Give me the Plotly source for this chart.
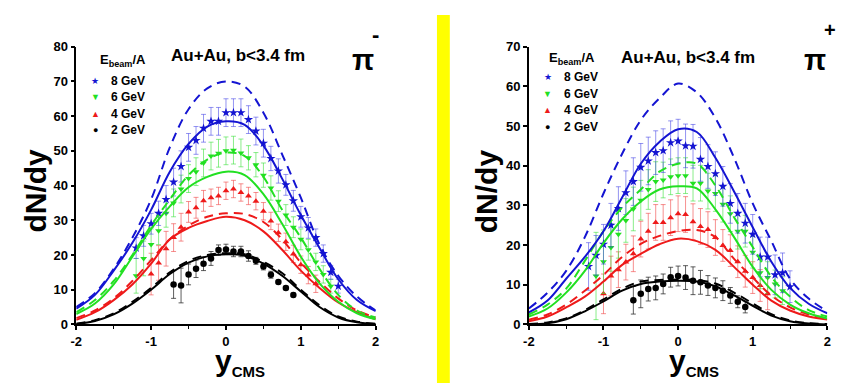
import plotly.graph_objects as go

W, H = 850, 383
FONT = "Liberation Sans, Arial, sans-serif"

# ---------------- model curves (sampled rapidity grid) ----------------
y_grid = [-2.0, -1.75, -1.5, -1.25, -1.0, -0.75, -0.5, -0.25, 0.0,
          0.25, 0.5, 0.75, 1.0, 1.25, 1.5, 1.75, 2.0]

# pi- panel
pim_8_solid = [4.5, 8.5, 15.5, 23.5, 33, 44, 52, 57, 58.5, 57.5, 51.5, 42, 31.5, 22, 13, 7, 3.8]
pim_8_dash = [5, 9, 16, 25, 36, 51, 62, 68, 70, 68.5, 61, 49, 36.5, 23, 14, 8, 4]
pim_6_solid = [3, 6, 11.5, 19.5, 27.5, 34, 39.5, 42.5, 44, 43, 37.5, 29, 19.5, 11.8, 6.5, 3.2, 1.5]
pim_6_dash = [3.5, 7, 12.5, 20, 28.5, 36, 43, 47.5, 49.5, 48.5, 42.5, 33, 25, 16, 8.5, 4, 2]
pim_4_solid = [1.3, 3.5, 7, 11.5, 17.5, 24.5, 27.8, 29.8, 31, 30, 26.8, 21.5, 15.5, 10.5, 6.3, 3.5, 1.5]
pim_4_dash = [1.8, 4, 7.5, 12.5, 18.5, 24.5, 28.5, 31, 32, 31.8, 29.5, 24.5, 17.8, 12.3, 7.5, 4, 2]
pim_2_solid = [0.1, 1, 2.9, 6, 10, 14.5, 17.8, 19.6, 20.2, 19.8, 17.5, 14, 9.5, 5, 2, 0.6, 0.1]
pim_2_dash = [0.2, 1.2, 3.2, 6.5, 10.5, 15, 18.3, 20, 20.5, 20.2, 18, 14.8, 10, 5.5, 2.3, 0.8, 0.2]

# pi+ panel
pip_8_solid = [3, 6, 11.5, 17, 23.5, 32, 40.5, 46, 49.2, 48.5, 42, 33.5, 24.5, 15.8, 9.2, 5.2, 2.8]
pip_8_dash = [4, 8, 13.5, 22, 33, 43, 51.5, 57, 60.7, 58.5, 52, 42, 30.5, 21, 11.5, 6.5, 3.3]
pip_6_solid = [2, 4, 8, 13.5, 20.5, 26.5, 31, 34, 34.8, 34.3, 29, 22, 14.5, 8.7, 5, 2.8, 1.5]
pip_6_dash = [2.5, 5, 9, 16, 23.5, 29.5, 34, 38.5, 40.5, 40.5, 35, 27, 19.5, 12, 7, 3.6, 2]
pip_4_solid = [0.8, 2, 4.3, 7, 10.8, 15, 17.8, 20.2, 21.6, 21, 18.8, 14.5, 10, 6, 3.5, 2, 1.2]
pip_4_dash = [1.2, 2.5, 5, 8.5, 12.5, 17, 20.3, 22.3, 23.5, 23.8, 22, 16.5, 11.8, 7.3, 4.3, 2.5, 1.5]
pip_2_solid = [0.0, 0.3, 1.3, 3.3, 5.8, 8.5, 10.2, 10.8, 11, 10.8, 9.6, 7.3, 4.7, 2.2, 0.8, 0.2, 0.0]
pip_2_dash = [0.1, 0.5, 1.5, 3.6, 6.3, 9, 10.8, 11.2, 11.3, 11.2, 10.3, 8, 5.3, 2.6, 1, 0.3, 0.1]

# ---------------- measured data ----------------
pim_8_y = [-1.2, -1.1, -1.0, -0.9, -0.8, -0.7, -0.6, -0.5, -0.4, -0.3, -0.2, -0.1, 0.0, 0.1,
           0.2, 0.3, 0.4, 0.5, 0.6, 0.7, 0.8, 0.9, 1.0, 1.1, 1.2, 1.3, 1.4, 1.5]
pim_8_v = [22, 25.5, 29, 32, 36, 41, 45.5, 51, 53, 56.5, 58.5, 58.5, 61, 61,
           61, 59, 55.7, 52.2, 47.8, 44.2, 40.2, 35.6, 31, 27.8, 25, 20.4, 15, 11]
pim_8_e = [3, 3, 3, 3.5, 4, 4, 4.5, 4, 4, 4, 4, 4, 4, 4,
           4, 4, 4, 4, 3.5, 3.5, 3, 3, 3, 3, 2.5, 2.5, 2, 2]

pim_6_y = [-1.2, -1.1, -1.0, -0.9, -0.8, -0.7, -0.6, -0.5, -0.4, -0.3, -0.2, -0.1, 0.0, 0.1,
           0.2, 0.3, 0.4, 0.5, 0.6, 0.7, 0.8, 0.9, 1.0, 1.1, 1.2, 1.3, 1.4]
pim_6_v = [14, 19, 23, 27, 32, 35, 39, 42, 44, 46.5, 48.5, 49.3, 50, 50.2,
           49.4, 48, 46, 43, 39.3, 35.5, 31.5, 28, 24.5, 21.5, 18, 14.4, 11]
pim_6_e = [5, 5, 4.5, 4, 4, 4, 4, 4, 4, 4, 4, 4, 4, 4,
           4, 3.5, 3.5, 3.5, 3.5, 3, 3, 3, 3, 3, 2.5, 2.5, 2]

pim_4_y = [-1.0, -0.9, -0.8, -0.7, -0.6, -0.5, -0.4, -0.3, -0.2, -0.1, 0.0, 0.1,
           0.2, 0.3, 0.4, 0.5, 0.6, 0.7, 0.8, 0.9, 1.0, 1.1, 1.2]
pim_4_v = [14.5, 17.7, 21.8, 25, 28, 32.4, 33.6, 35.6, 36.5, 37, 38.5, 39,
           38, 37, 35.5, 32.6, 29.8, 26.4, 23.8, 20.3, 17.2, 14.2, 11.7]
pim_4_e = [6, 5, 5, 4, 4, 3, 3, 3, 2.5, 2.5, 2.5, 2.5,
           2.5, 2.5, 2.5, 2.5, 2.5, 2.5, 2.5, 2.5, 2.5, 2.5, 2.5]

pim_2_y = [-0.7, -0.6, -0.5, -0.4, -0.3, -0.2, -0.1, 0.0, 0.1, 0.2, 0.3, 0.4, 0.5, 0.6, 0.7, 0.8, 0.9]
pim_2_v = [11.5, 11.2, 14.4, 16, 17.5, 19, 21.4, 21.6, 21, 21, 19.7, 18.3, 16.7, 14.3, 12.2, 10.5, 8.5]
pim_2_e = [4, 5, 3, 2.5, 2, 2, 1.5, 1.5, 1.5, 1.5, 1.5, 1, 1, 1, 0.5, 0.5, 0.5]

pip_8_y = [-1.2, -1.1, -1.0, -0.9, -0.8, -0.7, -0.6, -0.5, -0.4, -0.3, -0.2, -0.1, 0.0, 0.1,
           0.2, 0.3, 0.4, 0.5, 0.6, 0.7, 0.8, 0.9, 1.0, 1.1, 1.2, 1.3, 1.4, 1.5]
pip_8_v = [14.6, 17.4, 20.2, 25, 29.2, 33.2, 36, 39.6, 41.2, 43.3, 43.8, 45.8, 46.2, 45,
           44.9, 41.6, 39.8, 38, 34.8, 30.5, 28, 25.5, 22.7, 17, 17, 12.5, 13, 9.5]
pip_8_e = [6, 5, 5, 5.5, 5.5, 5.5, 6, 6, 6, 5.5, 5.5, 5.5, 5.5, 5.5,
           5.5, 5.5, 5.5, 5.5, 5, 5, 5, 5, 5, 5, 5, 5, 5, 4]

pip_6_y = [-1.1, -1.0, -0.9, -0.8, -0.7, -0.6, -0.5, -0.4, -0.3, -0.2, -0.1, 0.0, 0.1,
           0.2, 0.3, 0.4, 0.5, 0.6, 0.7, 0.8, 0.9, 1.0, 1.1, 1.2, 1.3, 1.4]
pip_6_v = [12.2, 15.8, 19.4, 22.7, 26.2, 29.1, 31.3, 34, 36, 36.4, 37.2, 37.5, 37.5,
           35.6, 35.6, 33.6, 33, 30.3, 27.9, 23.5, 23.5, 18.2, 13, 11.8, 10.2, 8.5]
pip_6_e = [11, 8, 6, 6, 5.5, 5.5, 5, 5, 5, 4.5, 4.5, 4.5, 4.5,
           4.5, 4.5, 4.5, 4.5, 4.5, 4.5, 4.5, 4, 4, 4, 4, 3.5, 3.5]

pip_4_y = [-1.0, -0.9, -0.8, -0.7, -0.6, -0.5, -0.4, -0.3, -0.2, -0.1, 0.0, 0.1,
           0.2, 0.3, 0.4, 0.5, 0.6, 0.7, 0.8, 0.9, 1.0, 1.1, 1.2]
pip_4_v = [7.7, 12.2, 13.8, 15.7, 17.8, 21.5, 23.5, 25.7, 25.7, 26.9, 27.9, 27.7,
           25.9, 24.7, 23.9, 21.9, 19.9, 18.6, 15.8, 13.4, 11.8, 9.8, 7.7]
pip_4_e = [5, 5, 4.5, 4.5, 4.5, 4.5, 4.5, 4.5, 4.5, 4.5, 4.5, 4.5,
           4.5, 4.5, 4.5, 4.5, 4, 4, 4, 4, 4, 4, 4]

pip_2_y = [-0.6, -0.5, -0.4, -0.3, -0.2, -0.1, 0.0, 0.1, 0.2, 0.3, 0.4, 0.5, 0.6, 0.7, 0.8, 0.9]
pip_2_v = [6.1, 7.7, 8.9, 9.2, 10.2, 11.9, 12.2, 11.8, 11, 10.6, 9.8, 9.2, 8.5, 7.3, 5.7, 4.4]
pip_2_e = [3.5, 3.5, 3, 3, 2.5, 2.5, 2.5, 3, 3.5, 3, 2.5, 2.5, 2.5, 2, 1.5, 1.5]

energy_labels = ["8 GeV", "6 GeV", "4 GeV", "2 GeV"]

# ---------------- styles ----------------
LINE_COL = {"8": "#1414d2", "6": "#22e022", "4": "#ee1a1a", "2": "#000000"}
ERR_COL = {"8": "rgba(60,60,230,0.55)", "6": "rgba(60,225,60,0.6)",
           "4": "rgba(240,70,70,0.6)", "2": "rgba(40,40,40,0.75)"}
SYMBOL = {"8": "star", "6": "triangle-down", "4": "triangle-up", "2": "circle"}
MSIZE = {"8": 7, "6": 6, "4": 6, "2": 6.5}
GLYPH = {"8": "★", "6": "▼", "4": "▲", "2": "●"}

fig = go.Figure()

panels = [
    ("x", "y", {
        "8": (pim_8_solid, pim_8_dash, pim_8_y, pim_8_v, pim_8_e),
        "6": (pim_6_solid, pim_6_dash, pim_6_y, pim_6_v, pim_6_e),
        "4": (pim_4_solid, pim_4_dash, pim_4_y, pim_4_v, pim_4_e),
        "2": (pim_2_solid, pim_2_dash, pim_2_y, pim_2_v, pim_2_e),
    }),
    ("x2", "y2", {
        "8": (pip_8_solid, pip_8_dash, pip_8_y, pip_8_v, pip_8_e),
        "6": (pip_6_solid, pip_6_dash, pip_6_y, pip_6_v, pip_6_e),
        "4": (pip_4_solid, pip_4_dash, pip_4_y, pip_4_v, pip_4_e),
        "2": (pip_2_solid, pip_2_dash, pip_2_y, pip_2_v, pip_2_e),
    }),
]

for xa, ya, sets in panels:
    for key in ["2", "4", "6", "8"]:
        solid, dash, dy, dv, de = sets[key]
        fig.add_trace(go.Scatter(
            x=dy, y=dv, mode="markers", xaxis=xa, yaxis=ya,
            marker=dict(symbol=SYMBOL[key], size=MSIZE[key], color=LINE_COL[key],
                        line=dict(width=0)),
            error_y=dict(type="data", array=de, color=ERR_COL[key], thickness=1, width=2.5),
            showlegend=False, hoverinfo="skip"))
    for key in ["2", "4", "6", "8"]:
        solid, dash, dy, dv, de = sets[key]
        fig.add_trace(go.Scatter(
            x=y_grid, y=dash, mode="lines", xaxis=xa, yaxis=ya,
            line=dict(color=LINE_COL[key], width=2, dash="9px,6px", shape="spline", smoothing=1.0),
            showlegend=False, hoverinfo="skip"))
        fig.add_trace(go.Scatter(
            x=y_grid, y=solid, mode="lines", xaxis=xa, yaxis=ya,
            line=dict(color=LINE_COL[key], width=2, shape="spline", smoothing=1.0),
            showlegend=False, hoverinfo="skip"))


def px(xp):
    return xp / W


def py(yp):
    return 1 - yp / H


Y_DOM = [py(322), py(33)]

axis_common = dict(
    showline=True, linecolor="black", linewidth=1.5, mirror=False,
    showgrid=False, zeroline=False, ticks="outside", ticklen=4, tickwidth=1.5,
    tickcolor="black", tickfont=dict(family=FONT, size=13, color="black", weight="bold"),
)

fig.update_layout(
    width=W, height=H, margin=dict(l=0, r=0, t=0, b=0),
    paper_bgcolor="white", plot_bgcolor="white", showlegend=False,
    xaxis=dict(domain=[px(63), px(366)], range=[-2, 2], tickvals=[-2, -1, 0, 1, 2],
               ticktext=["-2", "-1", "0", "1", "2"], anchor="y",
               minor=dict(tickvals=[-1.5, -0.5, 0.5, 1.5], ticks="outside", ticklen=3,
                          tickcolor="black", tickwidth=1), **axis_common),
    yaxis=dict(domain=Y_DOM, range=[0, 80], tickvals=[0, 10, 20, 30, 40, 50, 60, 70, 80],
               anchor="x", **axis_common),
    xaxis2=dict(domain=[px(521), px(823)], range=[-2, 2], tickvals=[-2, -1, 0, 1, 2],
                ticktext=["-2", "-1", "0", "1", "2"], anchor="y2",
                minor=dict(tickvals=[-1.5, -0.5, 0.5, 1.5], ticks="outside", ticklen=3,
                           tickcolor="black", tickwidth=1), **axis_common),
    yaxis2=dict(domain=Y_DOM, range=[0, 70], tickvals=[0, 10, 20, 30, 40, 50, 60, 70],
                anchor="x2", **axis_common),
)

# yellow separator
fig.add_shape(type="rect", xref="paper", yref="paper", x0=px(428), x1=px(441), y0=0, y1=1,
              fillcolor="#FFFF00", line=dict(width=0), layer="below")

ann = []


def text(x, y, s, size, color="black", xanchor="center", angle=0, bold=True, yanchor="middle"):
    ann.append(dict(x=px(x), y=py(y), xref="paper", yref="paper", text=s, showarrow=False,
                    xanchor=xanchor, yanchor=yanchor, textangle=angle,
                    font=dict(family=FONT, size=size, color=color,
                              weight="bold" if bold else "normal")))


# axis titles
for cx in (22, 478):
    text(cx, 183, "dN/dy", 30, angle=-90)
text(229, 382, "y<sub><span style='font-size:15px'>CMS</span></sub>", 30, yanchor="bottom")
text(688, 382, "y<sub><span style='font-size:15px'>CMS</span></sub>", 30, yanchor="bottom")

# titles
text(227, 42, "Au+Au, b&lt;3.4 fm", 17)
text(682, 44, "Au+Au, b&lt;3.4 fm", 17)

# pion labels
text(353, 47, "π", 29)
text(366, 20, "-", 22)
text(811, 47, "π", 29)
text(826, 16, "+", 20)

# legends
legend_pos = [(110, 47, 82, 96, [68.5, 85.7, 102.7, 120]),
              (565, 45, 540, 555, [65, 82, 99, 117])]
for ex, ey, gx, tx, rows in legend_pos:
    text(ex, ey, "E<sub>beam</sub>/A", 13)
    for key, lab, ry in zip(["8", "6", "4", "2"], energy_labels, rows):
        text(gx, ry, GLYPH[key], 9, color=LINE_COL[key], bold=False)
        text(tx, ry, lab, 12, xanchor="left")

fig.update_layout(annotations=ann)

fig.write_html("out.html")
